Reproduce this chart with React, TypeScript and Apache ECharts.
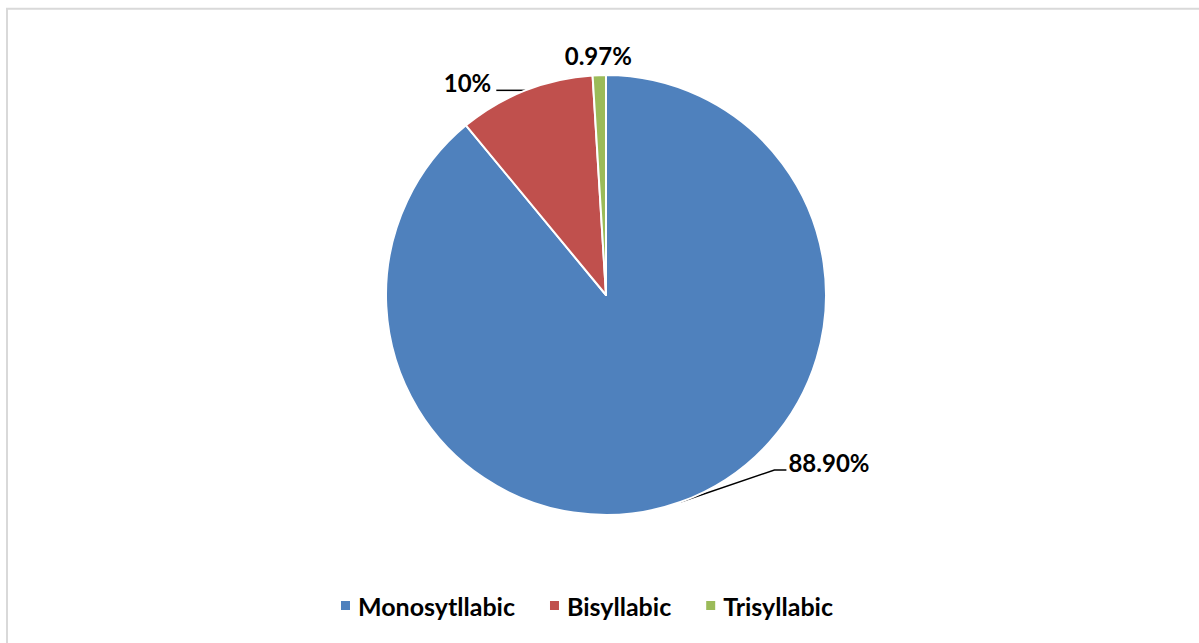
import React, { useEffect, useRef } from "react";
import * as echarts from "echarts";

const categories = ["Monosytllabic", "Bisyllabic", "Trisyllabic"];
const values = [88.9, 10, 0.97];
const labels = ["88.90%", "10%", "0.97%"];
const colors = ["#4F81BD", "#C0504D", "#9BBB59"];

const FONT = "Lato, 'Open Sans', sans-serif";

export default function App() {
  const ref = useRef<HTMLDivElement>(null);
  useEffect(() => {
    if (!ref.current) return;
    const chart = echarts.init(ref.current, null, { renderer: "svg" });
    chart.setOption({
      animation: false,
      backgroundColor: "#ffffff",
      graphic: [
        {
          type: "rect",
          shape: { x: 7, y: 8.7, width: 1210, height: 650 },
          style: { fill: "none", stroke: "#d9d9d9", lineWidth: 2 },
          silent: true,
        },
      ],
      legend: {
        data: categories,
        left: 334,
        top: 588,
        icon: "rect",
        itemWidth: 11,
        itemHeight: 11,
        itemGap: 33,
        textStyle: {
          fontFamily: FONT,
          fontWeight: "bold",
          fontSize: 25,
          color: "#000",
          padding: [0, 0, 0, 2],
        },
      },
      series: [
        {
          type: "pie",
          center: [606, 295],
          radius: 220,
          startAngle: 90,
          clockwise: true,
          itemStyle: { borderColor: "#fff", borderWidth: 2 },
          label: {
            show: true,
            position: "outside",
            fontFamily: FONT,
            fontWeight: "bold",
            fontSize: 24,
            color: "#000",
          },
          labelLine: {
            show: true,
            length: 10,
            length2: 10,
            lineStyle: { color: "#000", width: 1.5 },
          },
          labelLayout: (params: any) => {
            const pts = params.labelLinePoints;
            if (!pts) return {};
            const p0 = pts[0];
            const i = params.dataIndex;
            if (i === 0) {
              return {
                x: p0[0] + 108,
                y: p0[1] - 40,
                align: "left",
                verticalAlign: "middle",
                labelLinePoints: [p0, [p0[0] + 94, p0[1] - 32], [p0[0] + 106, p0[1] - 32]],
              };
            }
            if (i === 1) {
              return {
                x: p0[0] - 34,
                y: p0[1] - 8,
                align: "right",
                verticalAlign: "middle",
                labelLinePoints: [p0, [p0[0] - 1, p0[1]], [p0[0] - 29, p0[1]]],
              };
            }
            return {
              x: p0[0] - 1,
              y: p0[1] - 20,
              align: "center",
              verticalAlign: "middle",
              labelLinePoints: [p0, p0, p0],
            };
          },
          data: categories.map((name, i) => ({
            name,
            value: values[i],
            itemStyle: { color: colors[i] },
            label: { formatter: labels[i] },
            labelLine: i === 2 ? { lineStyle: { opacity: 0 } } : undefined,
          })),
        },
      ],
    });
    return () => chart.dispose();
  }, []);
  return (
    <div
      ref={ref}
      style={{ position: "absolute", left: 0, top: 0, width: 1199, height: 643 }}
    />
  );
}
